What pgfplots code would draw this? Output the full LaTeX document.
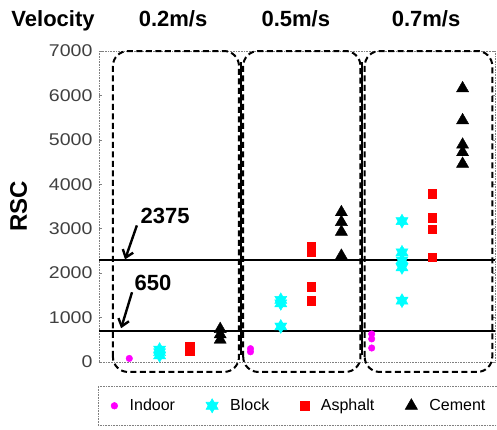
\documentclass[border=0pt]{standalone}
\usepackage{pgfplots}
\pgfplotsset{compat=1.18}
\usepackage{fontspec}
\setmainfont{Liberation Sans}
\usetikzlibrary{arrows.meta}

\pgfdeclareplotmark{hexstar}{%
  \pgfpathmoveto{\pgfpoint{0pt}{\pgfplotmarksize}}%
  \pgfpathlineto{\pgfpointpolar{210}{\pgfplotmarksize}}%
  \pgfpathlineto{\pgfpointpolar{330}{\pgfplotmarksize}}%
  \pgfpathclose
  \pgfpathmoveto{\pgfpoint{0pt}{-\pgfplotmarksize}}%
  \pgfpathlineto{\pgfpointpolar{30}{\pgfplotmarksize}}%
  \pgfpathlineto{\pgfpointpolar{150}{\pgfplotmarksize}}%
  \pgfpathclose
  \pgfusepathqfillstroke}

\definecolor{mag}{RGB}{255,0,255}
\definecolor{cy}{RGB}{0,255,255}
\definecolor{rd}{RGB}{255,0,0}

\begin{document}
\begin{tikzpicture}
\useasboundingbox (-99pt,-68pt) rectangle (398pt,362pt);
\begin{axis}[
  at={(0,0)}, anchor=south west,
  width=396pt, height=311pt, scale only axis,
  xmin=0, xmax=13.07, ymin=0, ymax=7000,
  xtick=\empty,
  ytick={0,1000,...,7000},
  ytick pos=both,
  axis line style={gray, densely dotted, line width=0.6pt},
  tick style={gray, line width=0.5pt},
  major tick length=3pt,
  yticklabel style={font=\fontsize{17}{17}\selectfont\addfontfeature{FakeStretch=1.15}, text=black!75, xshift=-3pt},
  scaled y ticks=false,
  /pgf/number format/assume math mode=true,
  /pgf/number format/set thousands separator={},
  ylabel={RSC},
  ylabel style={font=\bfseries\fontsize{24}{24}\selectfont, at={(axis description cs:-0.203,0.5)}, anchor=center},
  clip=false,
  legend columns=4,
  legend style={at={(axis description cs:-0.003,-0.077)}, anchor=north west,
    draw=gray, densely dotted, line width=0.6pt,
    font=\fontsize{16}{16}\selectfont,
    inner xsep=13pt, inner ysep=11pt,
    /tikz/every odd column/.append style={column sep=10pt},
    /tikz/every even column/.append style={column sep=29pt}},
  legend cell align=left,
]
% Indoor
\addplot[only marks, mark=*, mark size=3.3pt, color=mag, solid] coordinates {
 (1,80) (5,230) (5,300) (9,630) (9,520) (9,315)};
\addlegendentry{Indoor}
% Block
\addplot[only marks, mark=hexstar, mark size=7pt, color=cy, solid] coordinates {
 (2,150) (2,220) (2,280) (6,800) (6,1320) (6,1400) (10,3170) (10,2470) (10,2290) (10,2130) (10,1380)};
\addlegendentry{Block}
% Asphalt
\addplot[only marks, mark=square*, mark size=4.3pt, color=rd, solid] coordinates {
 (3,250) (3,350) (7,2470) (7,2600) (7,1690) (7,1380) (11,3790) (11,3250) (11,2990) (11,2360)};
\addlegendentry{Asphalt}
% Cement
\addplot[only marks, mark=triangle*, mark size=7pt, color=black, solid] coordinates {
 (4,500) (4,620) (4,740) (8,3370) (8,3150) (8,2930) (8,2390) (12,6160) (12,5440) (12,4890) (12,4720) (12,4460)};
\addlegendentry{Cement}

% threshold lines
\draw[black, line width=2pt] (axis cs:0,2290) -- (axis cs:13.07,2290);
\draw[black, line width=2pt] (axis cs:0,700) -- (axis cs:13.07,700);
% vertical separators
\draw[black, line width=2pt] (axis cs:4.69,6750) -- (axis cs:4.69,150);
\draw[black, line width=2pt] (axis cs:8.69,6750) -- (axis cs:8.69,150);
% dashed rounded boxes
\draw[black, line width=2pt, dash pattern=on 6pt off 3.5pt, rounded corners=15pt] (axis cs:0.46,-224) rectangle (axis cs:4.62,7000);
\draw[black, line width=2pt, dash pattern=on 6pt off 3.5pt, rounded corners=15pt] (axis cs:4.76,-224) rectangle (axis cs:8.63,7000);
\draw[black, line width=2pt, dash pattern=on 6pt off 3.5pt, rounded corners=15pt] (axis cs:8.77,-224) rectangle (axis cs:12.98,7000);
% annotations
\node[anchor=base, font=\bfseries\fontsize{22}{22}\selectfont] at (axis cs:2.18,3119) {2375};
\node[anchor=base, font=\bfseries\fontsize{22}{22}\selectfont] at (axis cs:1.78,1615) {650};
\draw[line width=2.4pt, -{Straight Barb[length=7pt,width=11pt]}] (axis cs:1.25,3074) -- (axis cs:0.86,2310);
\draw[line width=2.4pt, -{Straight Barb[length=7pt,width=11pt]}] (axis cs:1.09,1570) -- (axis cs:0.73,760);
% titles
\node[anchor=base, font=\bfseries\fontsize{22}{22}\selectfont] at (axis description cs:-0.116,1.080) {Velocity};
\node[anchor=base, font=\bfseries\fontsize{22}{22}\selectfont] at (axis description cs:0.187,1.080) {0.2m/s};
\node[anchor=base, font=\bfseries\fontsize{22}{22}\selectfont] at (axis description cs:0.497,1.080) {0.5m/s};
\node[anchor=base, font=\bfseries\fontsize{22}{22}\selectfont] at (axis description cs:0.826,1.080) {0.7m/s};
\end{axis}
\end{tikzpicture}
\end{document}
